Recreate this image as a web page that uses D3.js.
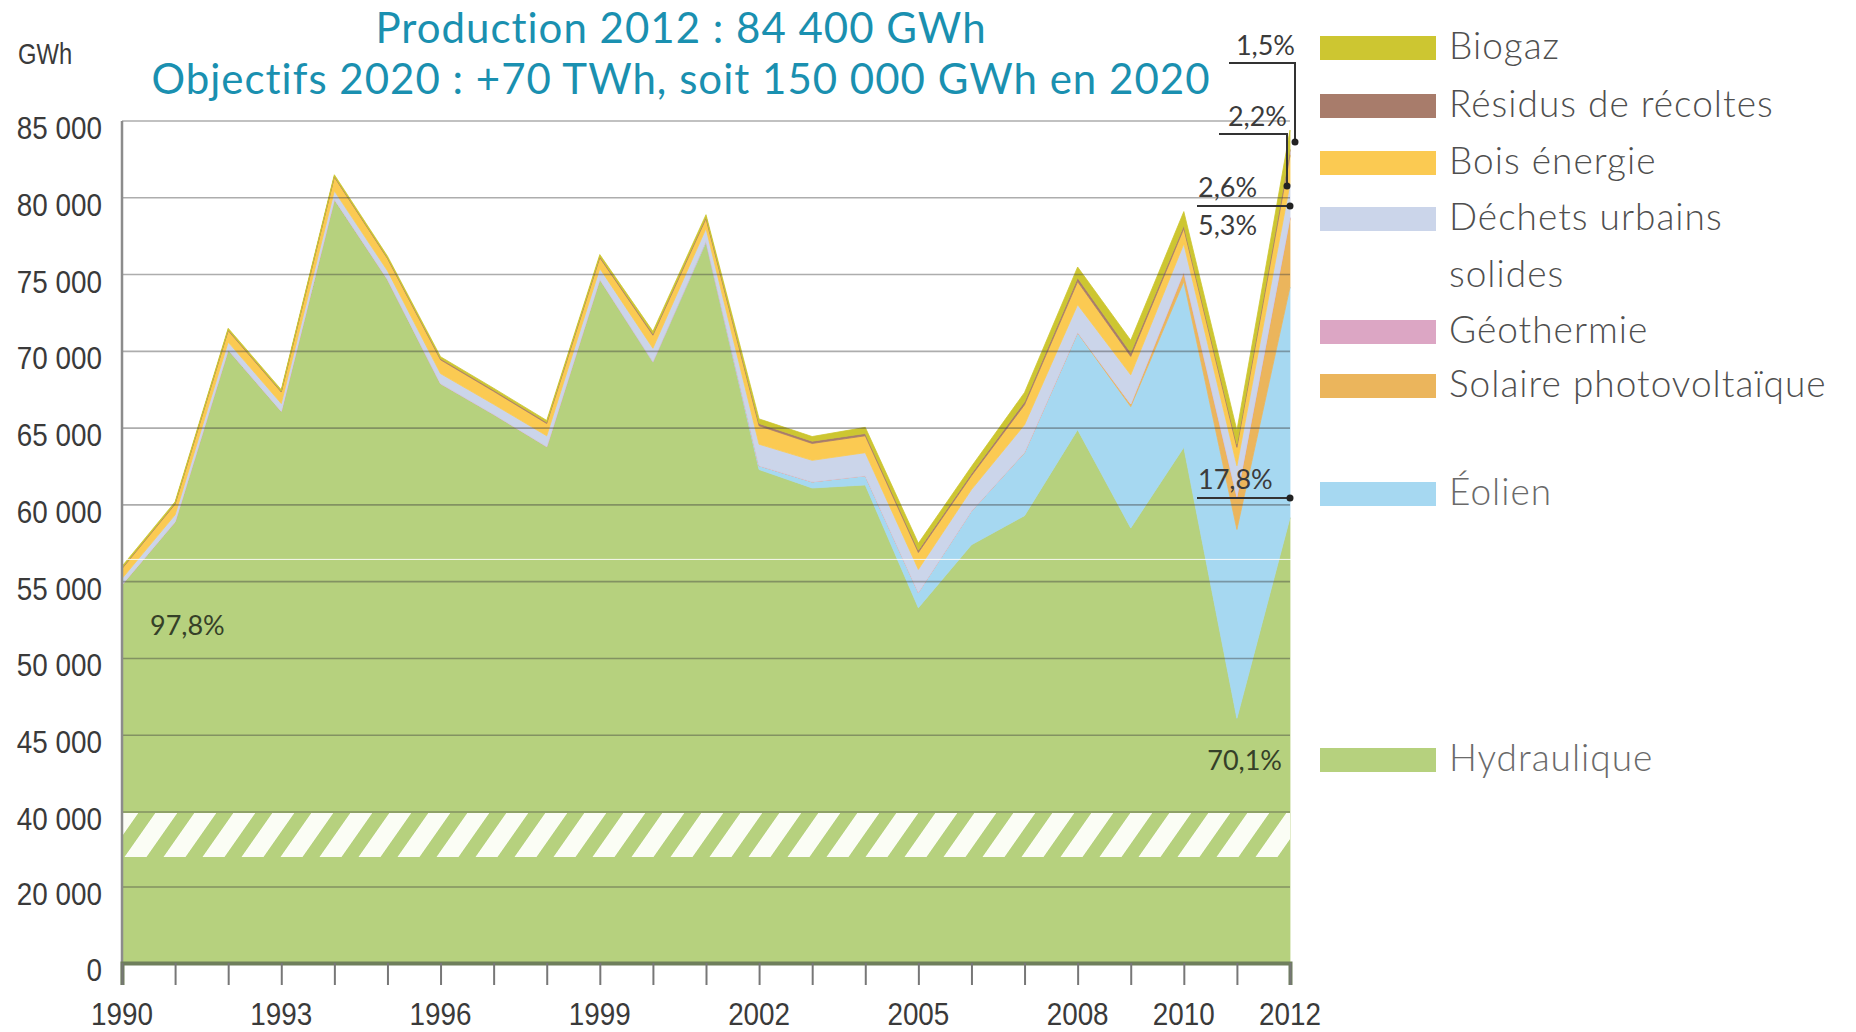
<!DOCTYPE html>
<html>
<head>
<meta charset="utf-8">
<script src="https://cdnjs.cloudflare.com/ajax/libs/d3/7.8.5/d3.min.js"></script>
<style>
  body { margin: 0; background: #fff; }
  svg { display: block; }
</style>
</head>
<body>
<div id="chart"></div>
<script>
// production par filière, GWh
const years = [1990, 1991, 1992, 1993, 1994, 1995, 1996, 1997, 1998, 1999, 2000, 2001,
  2002, 2003, 2004, 2005, 2006, 2007, 2008, 2009, 2010, 2011, 2012];
const hydraulique = [54800, 58900, 70100, 66100, 79900, 74700, 67900, 65900, 63800, 74700, 69300, 77100,
  62300, 61100, 61300, 53300, 57400, 59300, 64900, 58500, 63750, 46100, 59164];
const eolien = [0, 0, 0, 0, 0, 0, 0, 0, 0, 0, 50, 100,
  250, 400, 600, 1000, 2200, 4100, 6300, 7900, 10800, 12300, 15023];
const solaire = [0, 0, 0, 0, 0, 0, 0, 0, 0, 0, 0, 0,
  0, 0, 0, 0, 0, 20, 40, 170, 600, 2100, 4473];
const geothermie = [0, 0, 0, 0, 0, 0, 0, 0, 0, 0, 0, 0,
  0, 0, 0, 0, 0, 0, 0, 0, 50, 50, 50];
const dechets = [400, 450, 500, 500, 550, 550, 650, 650, 700, 700, 850, 800,
  1400, 1400, 1500, 1500, 1400, 1800, 1800, 1900, 1800, 2000, 2194];
const boisEnergie = [650, 700, 750, 750, 900, 800, 900, 850, 800, 700, 850, 650,
  1200, 1100, 1100, 1100, 900, 1300, 1500, 1200, 1000, 1200, 1857];
const residus = [50, 50, 50, 50, 50, 50, 80, 80, 80, 80, 100, 100,
  150, 150, 150, 150, 150, 200, 250, 250, 200, 200, 379];
const biogaz = [100, 100, 100, 100, 100, 100, 120, 120, 120, 120, 150, 150,
  300, 300, 400, 450, 450, 600, 700, 800, 900, 900, 1266];

const seriesKeys = ['Hydraulique', 'Éolien', 'Solaire photovoltaïque', 'Géothermie',
  'Déchets urbains solides', 'Bois énergie', 'Résidus de récoltes', 'Biogaz'];
const seriesValues = [hydraulique, eolien, solaire, geothermie, dechets, boisEnergie, residus, biogaz];
const seriesColors = ['#b6d17e', '#a6d8f1', '#ebb55c', '#dca6c4', '#cbd5ea', '#fbca52', '#a87c6b', '#cdc631'];

const yTickValues = [0, 20000, 40000, 45000, 50000, 55000, 60000, 65000, 70000, 75000, 80000, 85000];
const xLabelYears = [1990, 1993, 1996, 1999, 2002, 2005, 2008, 2010, 2012];

// légende, de haut en bas
const legendItems = [
  { key: 'Biogaz', lines: ['Biogaz'], base: 59 },
  { key: 'Résidus de récoltes', lines: ['Résidus de récoltes'], base: 117 },
  { key: 'Bois énergie', lines: ['Bois énergie'], base: 174 },
  { key: 'Déchets urbains solides', lines: ['Déchets urbains', 'solides'], base: 230 },
  { key: 'Géothermie', lines: ['Géothermie'], base: 343 },
  { key: 'Solaire photovoltaïque', lines: ['Solaire photovoltaïque'], base: 397 },
  { key: 'Éolien', lines: ['Éolien'], base: 505 },
  { key: 'Hydraulique', lines: ['Hydraulique'], base: 771 }
];

const width = 1856, height = 1032;
const svg = d3.select('#chart').append('svg')
  .attr('width', width)
  .attr('height', height);

//Scales (axe coupé entre 20 000 et 40 000)
const x = d3.scaleLinear().domain([1990, 2012]).range([122, 1290]);
const y = d3.scaleLinear()
  .domain([0, 20000, 40000, 85000])
  .range([963, 887, 812, 121]);

const table = years.map((yr, i) => {
  const row = { year: yr };
  seriesKeys.forEach((k, j) => { row[k] = seriesValues[j][i]; });
  return row;
});

const stacked = d3.stack().keys(seriesKeys)(table);

const area = d3.area()
  .x(d => x(d.data.year))
  .y0(d => y(d[0]))
  .y1(d => y(d[1]));

svg.append('g').selectAll('path')
  .data(stacked)
  .enter()
  .append('path')
  .attr('d', area)
  .attr('fill', (d, i) => seriesColors[i])
  .attr('stroke', (d, i) => seriesColors[i])
  .attr('stroke-width', 0.8);

// hachures de la coupure d'axe
const defs = svg.append('defs');
const hatch = defs.append('pattern')
  .attr('id', 'hatch')
  .attr('patternUnits', 'userSpaceOnUse')
  .attr('width', 39)
  .attr('height', 45)
  .attr('patternTransform', `translate(0, ${y(40000)}) skewX(-35)`);
hatch.append('rect')
  .attr('width', 22)
  .attr('height', 45)
  .attr('fill', '#fbfdf5');

svg.append('rect')
  .attr('x', x(1990))
  .attr('y', y(40000) + 1)
  .attr('width', x(2012) - x(1990))
  .attr('height', 44)
  .attr('fill', 'url(#hatch)');

//grid
svg.append('g').selectAll('line')
  .data(yTickValues.filter(v => v > 0))
  .enter()
  .append('line')
  .attr('x1', x(1990))
  .attr('x2', x(2012))
  .attr('y1', d => y(d))
  .attr('y2', d => y(d))
  .attr('stroke', 'rgba(60,60,60,0.42)')
  .attr('stroke-width', 1.6);

// fine ligne blanche de l'original
svg.append('line')
  .attr('x1', 0).attr('x2', x(2012) + 2)
  .attr('y1', y(56450)).attr('y2', y(56450))
  .attr('stroke', '#fff').attr('stroke-width', 1).attr('opacity', 0.9);

// axe vertical
svg.append('line')
  .attr('x1', x(1990)).attr('x2', x(1990))
  .attr('y1', y(85000)).attr('y2', y(0) + 22)
  .attr('stroke', '#8c8c8c').attr('stroke-width', 2.5);

// axe horizontal
const xAxis = d3.axisBottom(x)
  .tickValues(years)
  .tickSize(22)
  .tickFormat('');
const xAxisGroup = svg.append('g')
  .attr('transform', `translate(0, ${y(0)})`)
  .call(xAxis);
xAxisGroup.select('.domain')
  .attr('stroke', '#6f7f5c')
  .attr('stroke-width', 4);
xAxisGroup.selectAll('.tick line')
  .attr('stroke', '#777')
  .attr('stroke-width', 2);

const narrow = 'Liberation Sans, Arial, sans-serif';

svg.append('g').selectAll('g')
  .data(xLabelYears)
  .enter()
  .append('g')
  .attr('transform', d => `translate(${x(d)}, 1025) scale(0.87, 1)`)
  .append('text')
  .attr('text-anchor', 'middle')
  .attr('font-family', narrow)
  .attr('font-size', 32)
  .attr('fill', '#3a3a3a')
  .text(d => d);

svg.append('g').selectAll('g')
  .data(yTickValues)
  .enter()
  .append('g')
  .attr('transform', d => `translate(102, ${y(d) + 18}) scale(0.87, 1)`)
  .append('text')
  .attr('text-anchor', 'end')
  .attr('font-family', narrow)
  .attr('font-size', 32)
  .attr('fill', '#3a3a3a')
  .text(d => d3.format(',')(d).replace(/,/g, ' '));

svg.append('g')
  .attr('transform', 'translate(18, 64) scale(0.82, 1)')
  .append('text')
  .attr('font-family', narrow)
  .attr('font-size', 29)
  .attr('fill', '#3a3a3a')
  .text('GWh');

// titre
const title = svg.append('g')
  .attr('font-family', 'Lato, sans-serif')
  .attr('fill', '#1a90b0')
  .attr('font-size', 42)
  .attr('letter-spacing', 1)
  .attr('text-anchor', 'middle');
title.append('text').attr('x', 681).attr('y', 43)
  .text('Production 2012 : 84 400 GWh');
title.append('text').attr('x', 681).attr('y', 94)
  .text('Objectifs 2020 : +70 TWh, soit 150 000 GWh en 2020');

// légende
const legend = svg.append('g')
  .attr('font-family', 'Lato, sans-serif')
  .attr('font-weight', 300)
  .attr('letter-spacing', 1);
legendItems.forEach(item => {
  const idx = seriesKeys.indexOf(item.key);
  legend.append('rect')
    .attr('x', 1320)
    .attr('y', item.base - 23)
    .attr('width', 116)
    .attr('height', 24)
    .attr('fill', seriesColors[idx]);
  item.lines.forEach((l, k) => {
    legend.append('text')
      .attr('x', 1449)
      .attr('y', item.base + k * 57)
      .attr('font-size', 37)
      .attr('fill', idx <= 1 ? '#6a6a6a' : '#4f4f4f')
      .text(l);
  });
});

// parts 2012
const ann = svg.append('g')
  .attr('font-family', 'Lato, sans-serif')
  .attr('font-size', 27)
  .attr('fill', '#3b3b3b');
const xEnd = x(2012);

ann.append('text').attr('x', 150).attr('y', 635).attr('fill', '#354028').text('97,8%');
ann.append('text').attr('x', 1282).attr('y', 770).attr('text-anchor', 'end').attr('fill', '#354028').text('70,1%');

const shareLines = [
  { label: '17,8%', value: 60450, above: true },
  { label: '2,6%', value: 79470, above: true, below: '5,3%' }
];
shareLines.forEach(s => {
  const yy = y(s.value);
  ann.append('line')
    .attr('x1', xEnd - 93).attr('x2', xEnd)
    .attr('y1', yy).attr('y2', yy)
    .attr('stroke', '#333').attr('stroke-width', 2);
  ann.append('circle').attr('cx', xEnd).attr('cy', yy).attr('r', 3.5).attr('fill', '#222');
  ann.append('text').attr('x', xEnd - 92).attr('y', yy - 9).text(s.label);
  if (s.below) ann.append('text').attr('x', xEnd - 92).attr('y', yy + 29).text(s.below);
});

const elbowLines = [
  { label: '2,2%', value: 80770, top: 134, left: 1219, xr: xEnd - 3 },
  { label: '1,5%', value: 83630, top: 63, left: 1229, xr: xEnd + 5 }
];
elbowLines.forEach(s => {
  const yy = y(s.value);
  ann.append('path')
    .attr('d', `M${s.left},${s.top}H${s.xr}V${yy}`)
    .attr('fill', 'none')
    .attr('stroke', '#333').attr('stroke-width', 2);
  ann.append('circle').attr('cx', s.xr).attr('cy', yy).attr('r', 3.5).attr('fill', '#222');
  ann.append('text').attr('x', s.xr).attr('y', s.top - 8).attr('text-anchor', 'end').text(s.label);
});
</script>
</body>
</html>
